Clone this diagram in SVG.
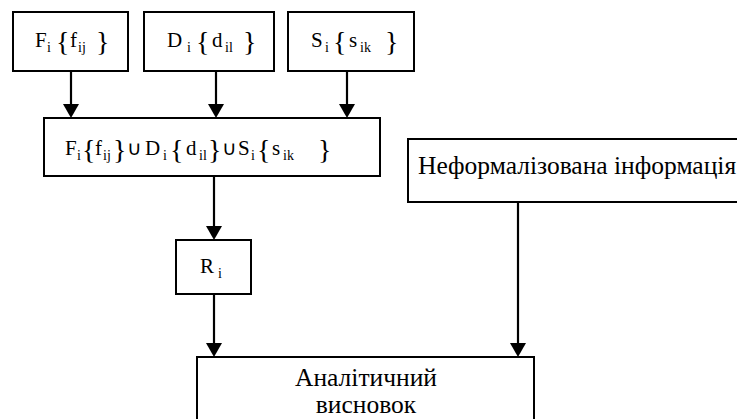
<svg xmlns="http://www.w3.org/2000/svg" width="737" height="419" viewBox="0 0 737 419">
<defs>
<style>
.box{fill:#fff;stroke:#000;stroke-width:2}
text{font-family:'Liberation Serif','Times New Roman',serif;fill:#000}
.t{font-size:21px}
.s{font-size:14px}
.b{font-size:28px}
.u{font-size:20px}
.w{font-size:25.5px}
.c{stroke:#000;stroke-width:2.2;fill:none;marker-end:url(#ah)}
</style>
<marker id="ah" markerUnits="userSpaceOnUse" markerWidth="16" markerHeight="16" refX="2" refY="8" orient="auto">
<path d="M0,0 L14,8 L0,16 z" fill="#000"/>
</marker>
</defs>
<rect width="737" height="419" fill="#fff"/>
<g id="connectors">
<line class="c" x1="71" y1="71" x2="71" y2="106"/>
<line class="c" x1="216" y1="71" x2="216" y2="106"/>
<line class="c" x1="347" y1="71" x2="347" y2="106"/>
<line class="c" x1="214" y1="176" x2="214" y2="228"/>
<line class="c" x1="214" y1="294" x2="214" y2="345"/>
<line class="c" x1="518" y1="202" x2="518" y2="345"/>
</g>
<g id="node-F">
<rect class="box" x="13" y="12" width="115" height="59"/>
<text class="t" x="35" y="47">F</text><text class="s" x="47" y="52">i</text>
<text class="b" x="56" y="51">{</text>
<text class="t" x="70" y="47">f</text><text class="s" x="78" y="52">ij</text>
<text class="b" x="96" y="51">}</text>
</g>
<g id="node-D">
<rect class="box" x="144" y="12" width="130" height="59"/>
<text class="t" x="167" y="47">D</text><text class="s" x="187" y="52">i</text>
<text class="b" x="196" y="51">{</text>
<text class="t" x="212" y="47">d</text><text class="s" x="225" y="52">il</text>
<text class="b" x="243" y="51">}</text>
</g>
<g id="node-S">
<rect class="box" x="288" y="12" width="126" height="59"/>
<text class="t" x="311" y="47">S</text><text class="s" x="325" y="52">i</text>
<text class="b" x="333" y="51">{</text>
<text class="t" x="349" y="47">s</text><text class="s" x="360" y="52">ik</text>
<text class="b" x="385" y="51">}</text>
</g>
<g id="node-union">
<rect class="box" x="44" y="118" width="336" height="58"/>
<text class="t" x="65" y="155">F</text><text class="s" x="77" y="160">i</text>
<text class="b" x="82" y="159">{</text>
<text class="t" x="95" y="155">f</text><text class="s" x="103" y="160">ij</text>
<text class="b" x="113" y="159">}</text>
<text class="u" x="127" y="155">∪</text>
<text class="t" x="145" y="155">D</text><text class="s" x="163" y="160">i</text>
<text class="b" x="170" y="159">{</text>
<text class="t" x="186" y="155">d</text><text class="s" x="199" y="160">il</text>
<text class="b" x="208" y="159">}</text>
<text class="u" x="222" y="155">∪</text>
<text class="t" x="238" y="155">S</text><text class="s" x="251" y="160">i</text>
<text class="b" x="257" y="159">{</text>
<text class="t" x="272" y="155">s</text><text class="s" x="283" y="160">ik</text>
<text class="b" x="318" y="159">}</text>
</g>
<g id="node-R">
<rect class="box" x="176" y="240" width="75" height="54"/>
<text class="t" x="200" y="273">R</text><text class="s" x="218" y="278">i</text>
</g>
<g id="node-info">
<rect class="box" x="408" y="139" width="340" height="63"/>
<text class="w" x="418" y="174">Неформалізована інформація</text>
</g>
<g id="node-conclusion">
<rect class="box" x="197" y="357" width="337" height="80"/>
<text class="w" x="366" y="386" text-anchor="middle">Аналітичний</text>
<text class="w" x="366" y="413" text-anchor="middle">висновок</text>
</g>
</svg>
